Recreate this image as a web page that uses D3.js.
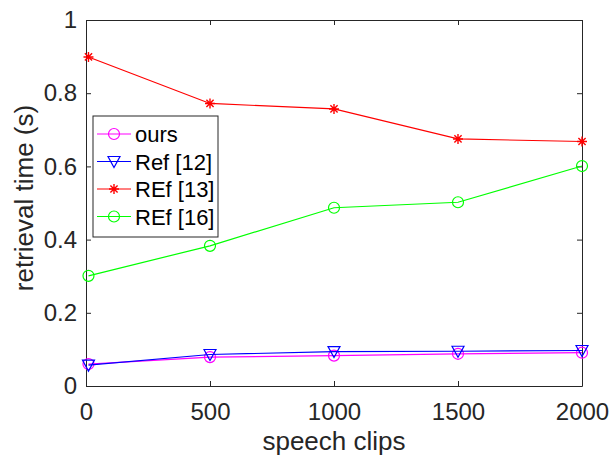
<!DOCTYPE html>
<html>
<head>
<meta charset="utf-8">
<script src="https://cdn.jsdelivr.net/npm/d3@7"></script>
<style>
body { margin: 0; background: #fff; }
svg { font-family: "Liberation Sans", Arial, sans-serif; }
</style>
</head>
<body>
<div id="chart"></div>
<script>
// data
var clips = [10, 500, 1000, 1500, 2000];
var ours = [0.060, 0.079, 0.083, 0.088, 0.091];
var ref12 = [0.057, 0.086, 0.094, 0.095, 0.097];
var ref13 = [0.899, 0.772, 0.757, 0.675, 0.668];
var ref16 = [0.301, 0.383, 0.487, 0.502, 0.601];
var xTicks = [0, 500, 1000, 1500, 2000];
var yTicks = [0, 0.2, 0.4, 0.6, 0.8, 1];

var series = [
  {name: 'ours', values: ours, color: '#ff00ff', marker: 'circle'},
  {name: 'Ref [12]', values: ref12, color: '#0000ff', marker: 'triangle'},
  {name: 'REf [13]', values: ref13, color: '#ff0000', marker: 'star'},
  {name: 'REf [16]', values: ref16, color: '#00ff00', marker: 'circle'}
];

var W = 609, H = 458;
var margin = {top: 20, right: 27, bottom: 72, left: 86};
var width = W - margin.left - margin.right;
var height = H - margin.top - margin.bottom;
var axisColor = '#262626';

var svg = d3.select('#chart').append('svg')
  .attr('width', W).attr('height', H);
var g = svg.append('g')
  .attr('transform', 'translate(' + margin.left + ',' + margin.top + ')');

var x = d3.scaleLinear().domain([0, 2000]).range([0, width]);
var y = d3.scaleLinear().domain([0, 1]).range([height, 0]);

// axes with inward ticks, box on
function styleAxis(sel) {
  sel.select('.domain').attr('stroke', axisColor);
  sel.selectAll('.tick line').attr('stroke', axisColor);
  sel.selectAll('text').attr('fill', axisColor).style('font-size', '24px');
}
var xAxis = g.append('g').attr('transform', 'translate(0,' + height + ')')
  .call(d3.axisBottom(x).tickValues(xTicks).tickSizeInner(-5).tickSizeOuter(0)
    .tickPadding(17).tickFormat(d3.format('d')));
styleAxis(xAxis);
var yAxis = g.append('g')
  .call(d3.axisLeft(y).tickValues(yTicks).tickSizeInner(-5).tickSizeOuter(0)
    .tickPadding(9).tickFormat(d3.format('')));
styleAxis(yAxis);
var xTop = g.append('g')
  .call(d3.axisTop(x).tickValues(xTicks).tickSizeInner(-5).tickSizeOuter(0).tickFormat(''));
styleAxis(xTop);
var yRight = g.append('g').attr('transform', 'translate(' + width + ',0)')
  .call(d3.axisRight(y).tickValues(yTicks).tickSizeInner(-5).tickSizeOuter(0).tickFormat(''));
styleAxis(yRight);

g.append('text')
  .attr('x', width / 2).attr('y', height + 64)
  .attr('text-anchor', 'middle')
  .attr('fill', axisColor)
  .style('font-size', '26px')
  .text('speech clips');
g.append('text')
  .attr('transform', 'rotate(-90)')
  .attr('x', -height / 2 + 5).attr('y', -53)
  .attr('text-anchor', 'middle')
  .attr('fill', axisColor)
  .style('font-size', '26px')
  .text('retrieval time (s)');

function drawMarker(sel, type, color) {
  if (type === 'circle') {
    sel.append('circle').attr('r', 5.5)
      .attr('fill', 'none').attr('stroke', color).attr('stroke-width', 1.2);
  } else if (type === 'triangle') {
    sel.append('path').attr('d', 'M-6,-5L6,-5L0,6Z')
      .attr('fill', 'none').attr('stroke', color).attr('stroke-width', 1.2);
  } else {
    sel.append('path')
      .attr('d', 'M-5,0L5,0M0,-5L0,5M-3.6,-3.6L3.6,3.6M-3.6,3.6L3.6,-3.6')
      .attr('stroke', color).attr('stroke-width', 1.4);
  }
}

var line = d3.line()
  .x(function(d, i) { return x(clips[i]); })
  .y(function(d) { return y(d); });

series.forEach(function(s) {
  g.append('path').datum(s.values)
    .attr('d', line)
    .attr('fill', 'none')
    .attr('stroke', s.color)
    .attr('stroke-width', 1.2);
  s.values.forEach(function(v, i) {
    var m = g.append('g')
      .attr('transform', 'translate(' + x(clips[i]) + ',' + y(v) + ')');
    drawMarker(m, s.marker, s.color);
  });
});

// legend
var legend = svg.append('g').attr('transform', 'translate(93,116)');
legend.append('rect')
  .attr('width', 125).attr('height', 121)
  .attr('fill', '#fff').attr('stroke', axisColor).attr('stroke-width', 1);
series.forEach(function(s, i) {
  var row = legend.append('g').attr('transform', 'translate(0,' + (18 + i * 27.5) + ')');
  row.append('line').attr('x1', 4).attr('x2', 38)
    .attr('stroke', s.color).attr('stroke-width', 1.2);
  drawMarker(row.append('g').attr('transform', 'translate(21,0)'), s.marker, s.color);
  row.append('text').attr('x', 42).attr('y', 8)
    .attr('fill', '#000')
    .style('font-size', '22px')
    .text(s.name);
});
</script>
</body>
</html>
